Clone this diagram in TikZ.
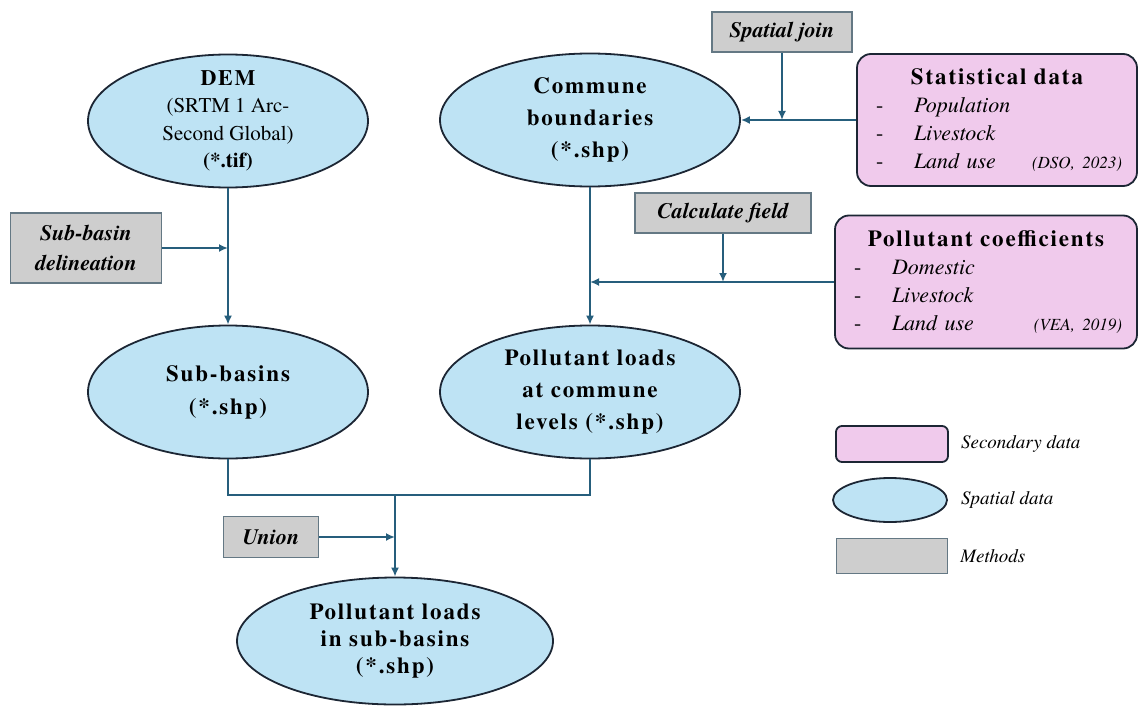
\documentclass[tikz,border=0pt]{standalone}
\usepackage{fontspec}
\setmainfont{texgyretermes}[Extension=.otf, UprightFont=*-regular, BoldFont=*-bold,
  ItalicFont=*-italic, BoldItalicFont=*-bolditalic]
\newfontfamily\widefont{texgyretermes}[Extension=.otf, UprightFont=*-regular, BoldFont=*-bold,
  ItalicFont=*-italic, BoldItalicFont=*-bolditalic, LetterSpace=8]
\usetikzlibrary{shapes.geometric,arrows.meta,positioning}

\definecolor{skyfill}{RGB}{190,227,244}
\definecolor{pinkfill}{RGB}{240,202,236}
\definecolor{greyfill}{RGB}{206,206,206}
\definecolor{inkline}{RGB}{28,38,52}
\definecolor{greyline}{RGB}{100,120,132}
\definecolor{flowblue}{RGB}{38,94,124}

\newcommand{\boxtitle}{\widefont\bfseries\upshape\fontsize{23}{28}\selectfont}
\newcommand{\refsize}{\fontsize{17}{20}\selectfont}
\newcommand{\dashitem}[1]{\makebox[42pt][l]{\hspace{4pt}\upshape -}#1}

\tikzset{
  spatial/.style={ellipse, draw=inkline, line width=1.8pt, fill=skyfill, align=center,
    inner xsep=0pt, inner ysep=-14pt, font=\widefont\bfseries\fontsize{23}{32}\selectfont},
  method/.style={rectangle, draw=greyline, line width=1.3pt, fill=greyfill, align=center,
    inner ysep=4pt, font=\bfseries\itshape\fontsize{22}{30}\selectfont},
  secondary/.style={rectangle, rounded corners=14pt, draw=inkline, line width=1.8pt,
    fill=pinkfill, inner xsep=15pt, font=\itshape\fontsize{22}{28}\selectfont},
  link/.style={draw=flowblue, line width=1.8pt},
  flow/.style={link, -{Latex[length=9pt,width=8pt]}},
  legtext/.style={inner sep=0pt, font=\itshape\fontsize{19}{22}\selectfont}
}

\begin{document}
\begin{tikzpicture}[x=1pt, y=-1pt]
  \useasboundingbox (0,0) rectangle (1139,706);

  % Spatial data
  \node[spatial, font=\rmfamily\fontsize{21}{27.5}\selectfont, minimum width=280pt, minimum height=133pt]
    (dem) at (228,121) {{\widefont\bfseries\fontsize{22}{27.5}\selectfont DEM}\\(SRTM 1 Arc-\\Second Global)\\{\bfseries (*.tif)}};
  \node[spatial, minimum width=300pt, minimum height=133pt] (commune) at (590,120)
    {Commune\\boundaries\\(*.shp)};
  \node[spatial, font=\widefont\bfseries\fontsize{23}{33}\selectfont, minimum width=280pt, minimum height=133pt]
    (subb) at (228,392) {Sub-basins\\(*.shp)};
  \node[spatial, minimum width=300pt, minimum height=133pt] (loads) at (590,392)
    {Pollutant loads\\at commune\\levels (*.shp)};
  \node[spatial, font=\widefont\bfseries\fontsize{23}{27}\selectfont, minimum width=316pt, minimum height=127pt]
    (final) at (395,641) {Pollutant loads\\in sub-basins\\(*.shp)};

  % Secondary data
  \node[secondary, text width=250pt, minimum height=132pt] (stat) at (997,120)
    {{\centering\boxtitle Statistical data\par}
     \dashitem{Population}\\
     \dashitem{Livestock}\\
     \dashitem{Land use}\hskip 0pt plus 1fill{\refsize (DSO, 2023)}};
  \node[secondary, text width=272pt, minimum height=133pt] (coef) at (986,282)
    {{\centering\boxtitle Pollutant coefficients\par}
     \dashitem{Domestic}\\
     \dashitem{Livestock}\\
     \dashitem{Land use}\hskip 0pt plus 1fill{\refsize (VEA, 2019)}};

  % Methods
  \node[method, minimum width=140pt, minimum height=40pt] (sjoin) at (782,32) {Spatial join};
  \node[method, minimum width=176pt, minimum height=40pt] (calc) at (723,213) {Calculate field};
  \node[method, minimum width=151pt, minimum height=70pt] (delin) at (86,248) {Sub-basin\\delineation};
  \node[method, minimum width=95pt, minimum height=41pt] (union) at (271,537) {Union};

  % Draw arrows
  \draw[flow] (dem) -- (subb);
  \draw[flow] (delin.east) -- (delin.east -| dem.south);
  \draw[flow] (stat.west) -- (stat.west -| commune.east);
  \draw[flow] (sjoin.south) -- (sjoin.south |- stat.west);
  \draw[flow] (commune) -- (loads);
  \draw[flow] (coef.west) -- (coef.west -| commune.south);
  \draw[flow] (calc.south) -- (calc.south |- coef.west);
  \coordinate (merge) at (395,495);
  \draw[link] (subb.south) |- (merge) -| (loads.south);
  \draw[flow] (merge) -- (final.north);
  \draw[flow] (union.east) -- (union.east -| merge);

  % Legend
  \node[secondary, minimum width=112pt, minimum height=36pt, rounded corners=6pt, inner sep=0pt]
    (legsec) at (892,444) {};
  \node[spatial, minimum width=114pt, minimum height=44pt, inner sep=0pt] (legspa) at (890,500) {};
  \node[method, minimum width=111pt, minimum height=35pt, inner sep=0pt] (legmet) at (892,556) {};
  \node[legtext, right=12pt of legsec] (legsectxt) {Secondary data};
  \node[legtext, right=13pt of legspa] (legspatxt) {Spatial data};
  \node[legtext, right=12pt of legmet] (legmettxt) {Methods};
\end{tikzpicture}
\end{document}
